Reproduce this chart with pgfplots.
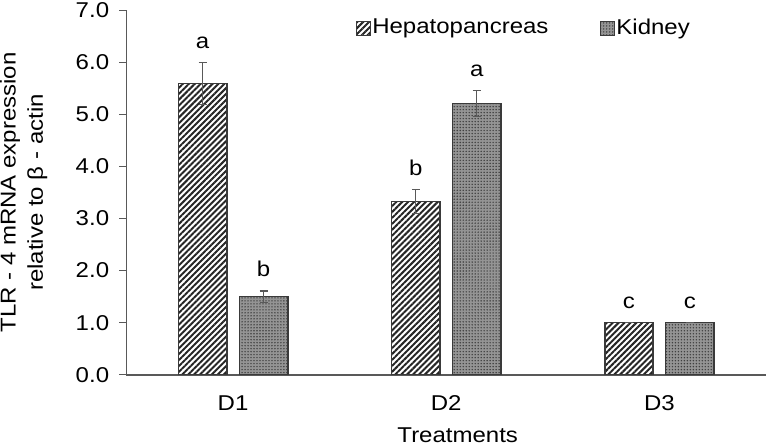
\documentclass[border=0pt]{standalone}
\usepackage{pgfplots}
\pgfplotsset{compat=1.18}
\usepackage{pgfplotstable}
\usepackage{fontspec}
\setmainfont{Liberation Sans}[FakeStretch=1.12]
\usetikzlibrary{patterns.meta}
\definecolor{axgray}{HTML}{595959}
\definecolor{bargray}{HTML}{3A3A3A}

\pgfplotstableread{
x  y     err   lab  top
0  5.59  0.40  a    5.99
1  3.33  0.23  b    3.56
2  1.00  0.00  c    1.00
}\hepdata
\pgfplotstableread{
x  y     err   lab  top
0  1.50  0.11  b    1.61
1  5.21  0.25  a    5.46
2  1.00  0.00  c    1.00
}\kiddata

\begin{document}
\begin{tikzpicture}[font=\fontsize{10.8}{13.5}\selectfont]
\begin{axis}[
  scale only axis,
  width=321bp, height=183bp,
  ybar,
  bar width=0.227,
  xmin=-0.5, xmax=2.5,
  ymin=0, ymax=7,
  xtick={0,1,2},
  xticklabels={D1,D2,D3},
  ytick={0,1,...,7},
  y tick label style={/pgf/number format/fixed, /pgf/number format/fixed zerofill, /pgf/number format/precision=1},
  /pgf/number format/assume math mode=true,
  axis x line*=bottom,
  axis y line*=left,
  x axis line style={draw=axgray, line width=1bp, -},
  y axis line style={draw=axgray, line width=0.6bp, -},
  tick align=outside,
  x tick style={draw=none},
  y tick style={draw=axgray, line width=0.6bp},
  major tick length=3.5bp,
  xticklabel style={anchor=base, inner sep=0pt, yshift=-14.2bp},
  every y tick label/.append style={inner ysep=1.3bp, inner xsep=0pt, xshift=-5bp},
  xlabel={Treatments},
  xlabel style={at={(axis description cs:0.518,0)}, anchor=base, inner sep=1bp, yshift=-33.8bp},
  ylabel={TLR - 4 mRNA expression\\relative to β - actin},
  ylabel style={align=center, inner sep=0pt, at={(axis description cs:-0.123,0.5)}, anchor=south,
    font=\fontsize{10.8}{13.8}\selectfont},
  legend style={at={(0.621,0.951)}, anchor=center, draw=none, fill=none,
    legend columns=2, /tikz/every even column/.append style={column sep=25bp},
    nodes={inner xsep=0.8bp},
    font=\fontsize{10.8}{13.5}\selectfont},
  legend image code/.code={\draw[#1, line width=0.5bp] (0bp,-3.5bp) rectangle (7bp,3.5bp);},
  error bars/error bar style={draw=axgray, line width=0.7bp},
  error bars/error mark options={rotate=90, mark size=2bp, draw=axgray, line width=0.7bp},
  nodes near coords style={anchor=base, inner sep=0pt, yshift=7bp, text=black},
]
\addplot[bar shift=-0.143, draw=bargray, line width=0.8bp,
  pattern={Lines[angle=45, distance=2.1bp, line width=1bp]}, pattern color=black!85,
  error bars/.cd, y dir=both, y explicit]
  table[x=x, y=y, y error=err] {\hepdata};
\addlegendentry{Hepatopancreas}
\addplot[bar shift=0.143, draw=bargray, line width=0.8bp, fill=black!42,
  postaction={pattern={Dots[distance=1.5bp, radius=0.4bp]}, pattern color=black!75},
  error bars/.cd, y dir=both, y explicit]
  table[x=x, y=y, y error=err] {\kiddata};
\addlegendentry{Kidney}
\addplot[forget plot, bar shift=-0.143, draw=none, fill=none,
  nodes near coords, point meta=explicit symbolic]
  table[x=x, y=top, meta=lab] {\hepdata};
\addplot[forget plot, bar shift=0.143, draw=none, fill=none,
  nodes near coords, point meta=explicit symbolic]
  table[x=x, y=top, meta=lab] {\kiddata};
\end{axis}
\end{tikzpicture}
\end{document}
